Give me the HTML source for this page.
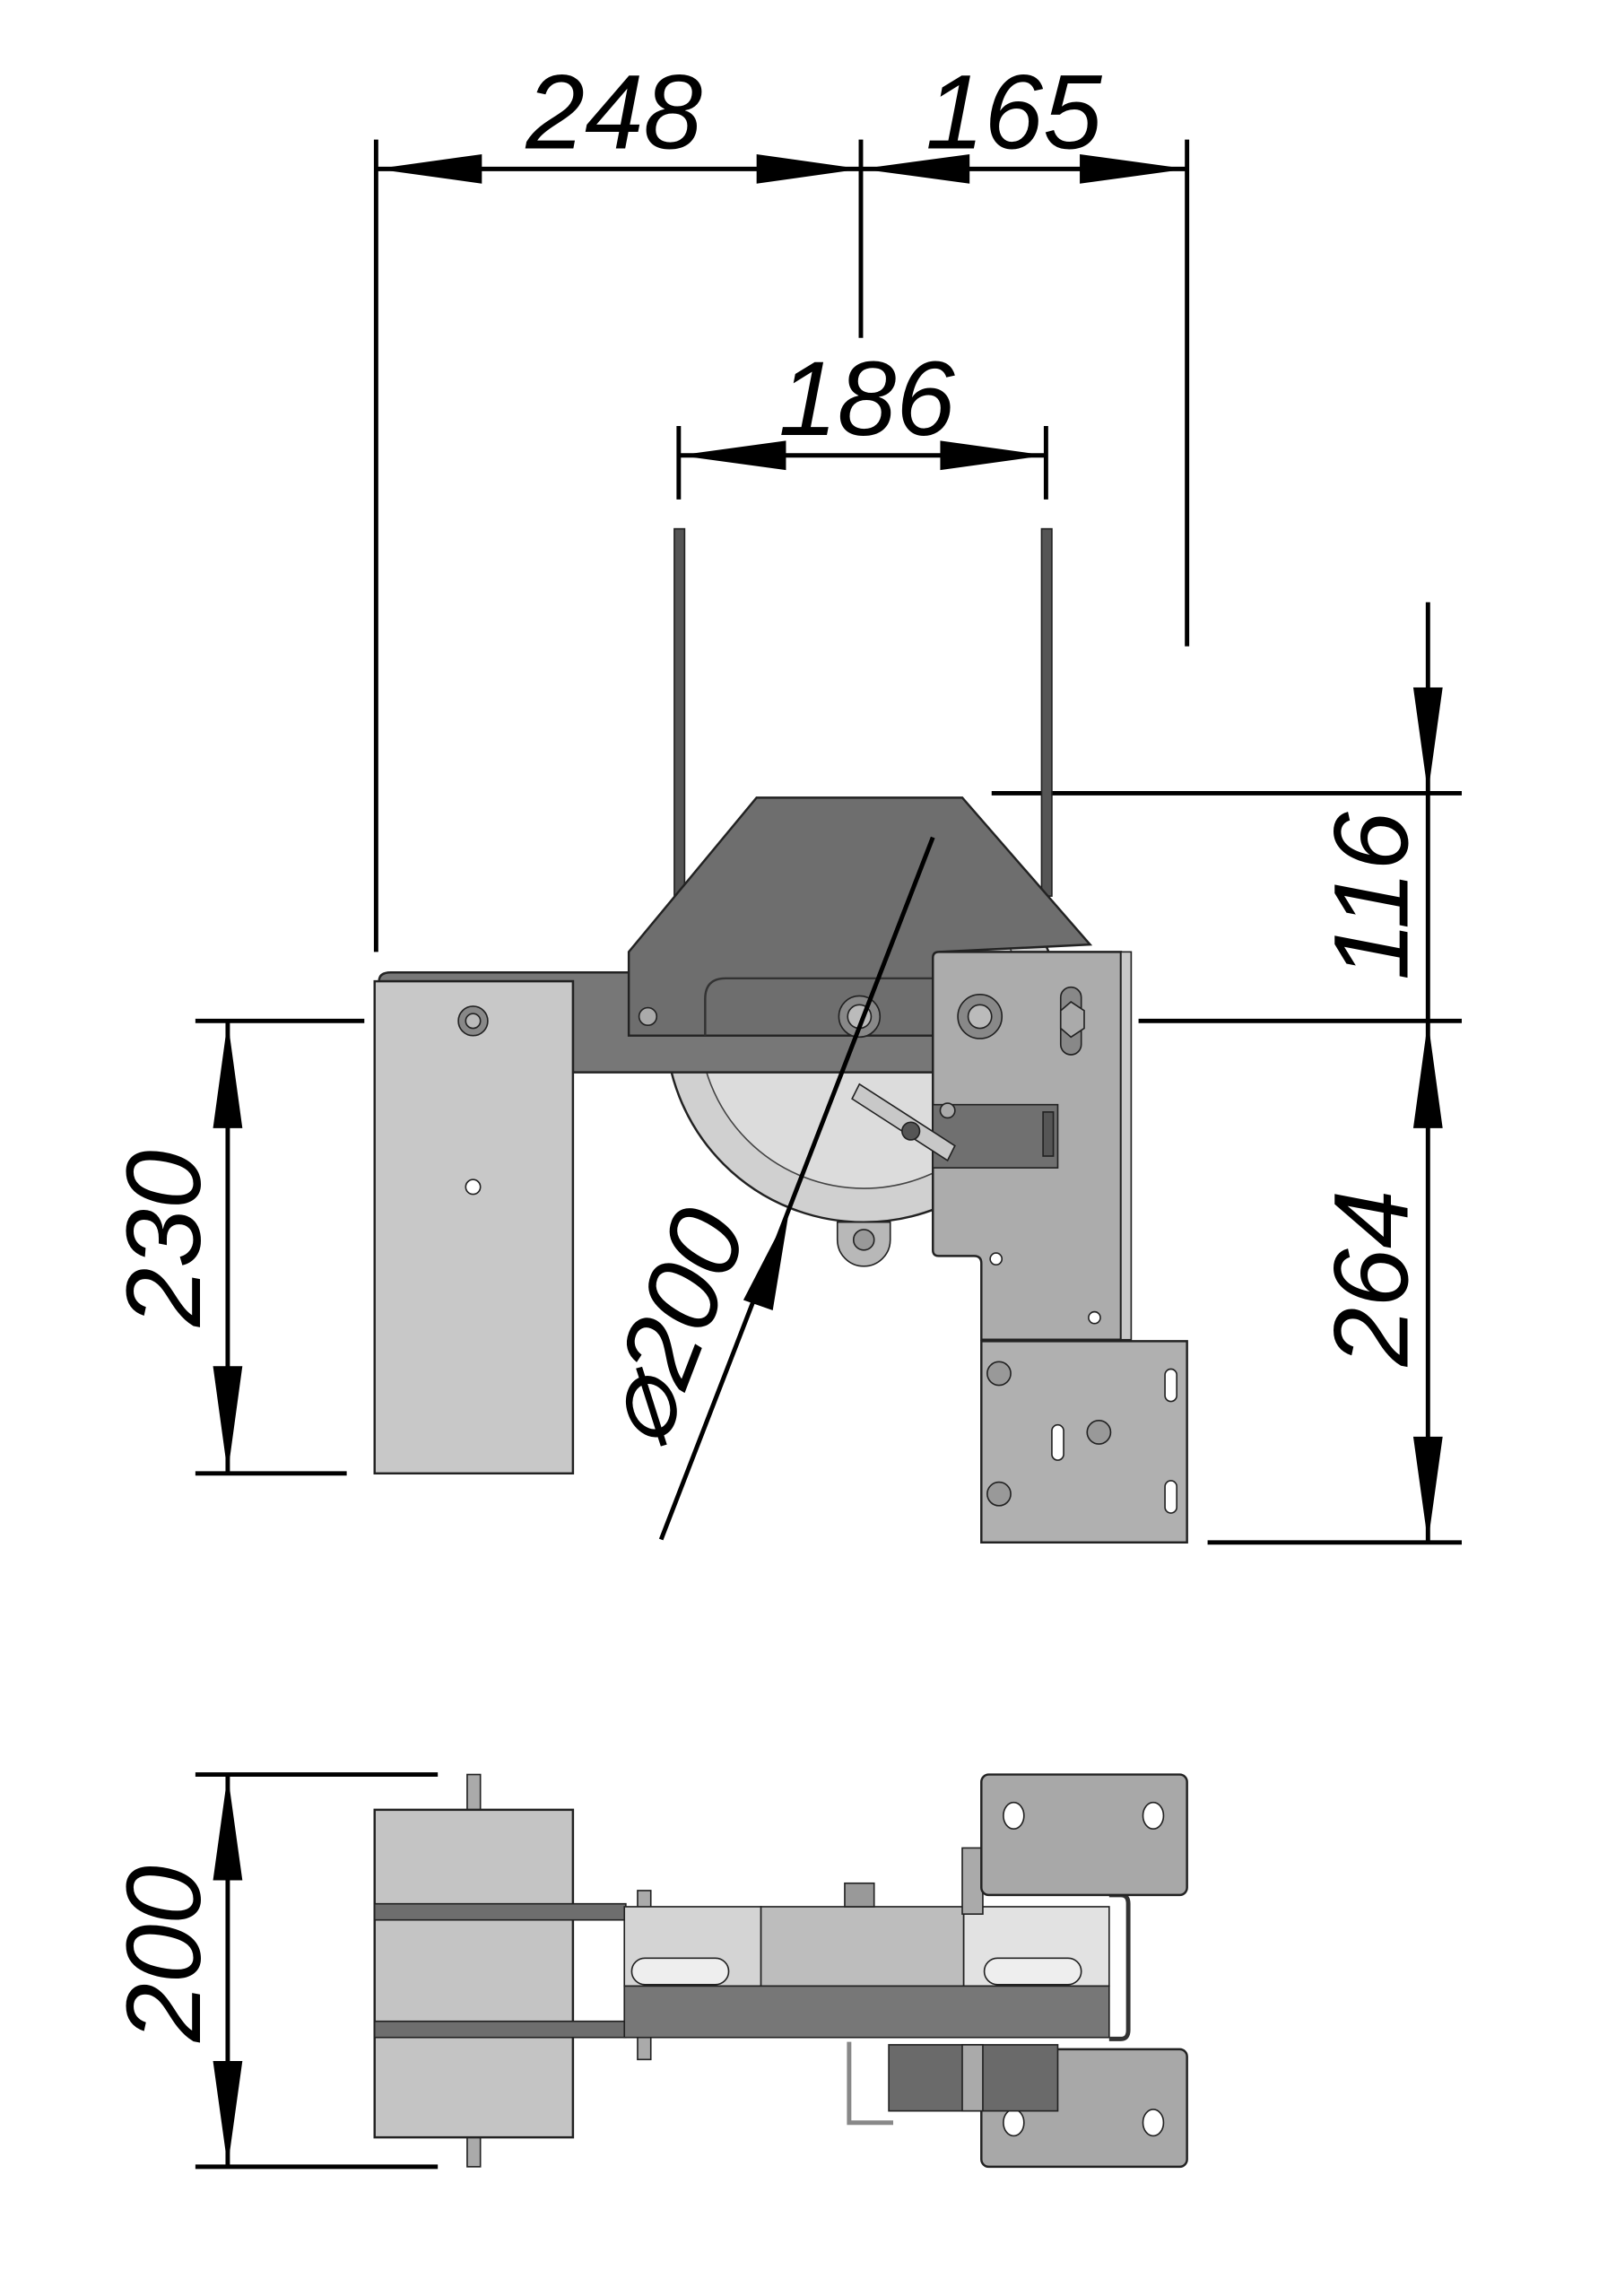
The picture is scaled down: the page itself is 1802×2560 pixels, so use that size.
<!DOCTYPE html>
<html><head><meta charset="utf-8"><style>html,body{margin:0;padding:0;background:#fff}svg{display:block}</style></head>
<body>
<svg width="1802" height="2560" viewBox="0 0 1100 1563" preserveAspectRatio="none" xmlns="http://www.w3.org/2000/svg">
<g stroke="#000" stroke-width="3" fill="none">
<!-- top dims -->
<line x1="256" y1="95" x2="256" y2="648"/>
<line x1="586" y1="95" x2="586" y2="230"/>
<line x1="808" y1="95" x2="808" y2="440"/>
<line x1="256" y1="115" x2="808" y2="115"/>
<line x1="462" y1="290" x2="462" y2="340"/>
<line x1="712" y1="290" x2="712" y2="340"/>
<line x1="462" y1="310" x2="712" y2="310"/>
<!-- right dims -->
<line x1="972" y1="410" x2="972" y2="1050"/>
<line x1="675" y1="540" x2="995" y2="540"/>
<line x1="775" y1="695" x2="995" y2="695"/>
<line x1="822" y1="1050" x2="995" y2="1050"/>
<!-- left dims -->
<line x1="155" y1="695" x2="155" y2="1003"/>
<line x1="133" y1="695" x2="248" y2="695"/>
<line x1="133" y1="1003" x2="236" y2="1003"/>
<line x1="155" y1="1208" x2="155" y2="1475"/>
<line x1="133" y1="1208" x2="298" y2="1208"/>
<line x1="133" y1="1475" x2="298" y2="1475"/>
</g>
<g fill="#000">
<polygon points="256,115 328,105 328,125"/>
<polygon points="586,115 515,105 515,125"/>
<polygon points="586,115 660,105 660,125"/>
<polygon points="808,115 735,105 735,125"/>
<polygon points="462,310 535,300 535,320"/>
<polygon points="712,310 640,300 640,320"/>
<polygon points="972,540 962,468 982,468"/>
<polygon points="972,695 962,768 982,768"/>
<polygon points="972,1050 962,978 982,978"/>
<polygon points="155,695 145,768 165,768"/>
<polygon points="155,1003 145,930 165,930"/>
<polygon points="155,1208 145,1280 165,1280"/>
<polygon points="155,1475 145,1403 165,1403"/>
</g>
<g font-family="Liberation Sans, sans-serif" font-style="italic" font-size="72" fill="#000" text-anchor="middle">
<text x="418" y="101">248</text>
<text x="690" y="101">165</text>
<text x="590" y="296">186</text>
<text transform="translate(958,610) rotate(-90)">116</text>
<text transform="translate(958,870) rotate(-90)">264</text>
<text transform="translate(136,843) rotate(-90)">230</text>
<text transform="translate(136,1330) rotate(-90)">200</text>
<text transform="translate(480,912) rotate(-69)">⌀200</text>
</g>
<!-- rods -->
<rect x="459" y="360" width="7" height="250" fill="#555" stroke="#222"/>
<rect x="709" y="360" width="7" height="250" fill="#555" stroke="#222"/>
<!-- wheel -->
<circle cx="588" cy="697" r="135" fill="#d0d0d0" stroke="#222" stroke-width="1.5"/>
<circle cx="588" cy="697" r="112" fill="#dcdcdc" stroke="#444" stroke-width="1"/>
<path d="M570 832 h36 v12 a18 18 0 0 1 -36 0z" fill="#b8b8b8" stroke="#222"/>
<circle cx="588" cy="844" r="7" fill="#999" stroke="#222"/>
<!-- arm -->
<path d="M258 668 q0 -6 8 -6 H640 V730 H390 V668z" fill="#777" stroke="#222" stroke-width="1.5"/>
<!-- hopper -->
<polygon points="515,543 655,543 742,643 640,648 640,705 428,705 428,648" fill="#6e6e6e" stroke="#222" stroke-width="1.5"/>
<path d="M480 705 V680 q0 -14 14 -14 H640" fill="none" stroke="#333" stroke-width="1.5"/>
<circle cx="441" cy="692" r="6" fill="#aaa" stroke="#222"/>
<circle cx="585" cy="692" r="14" fill="#888" stroke="#222"/>
<circle cx="585" cy="692" r="8" fill="#bbb" stroke="#222"/>
<!-- left box -->
<rect x="255" y="668" width="135" height="335" fill="#c8c8c8" stroke="#222" stroke-width="1.5"/>
<circle cx="322" cy="695" r="10" fill="#888" stroke="#222"/>
<circle cx="322" cy="695" r="5" fill="#bbb" stroke="#222"/>
<circle cx="322" cy="808" r="5" fill="#fff" stroke="#222"/>
<!-- right plate -->
<path d="M635 652 q0 -4 4 -4 H763 V912 H668 V860 q0 -5 -5 -5 H639 q-4 0 -4 -4z" fill="#acacac" stroke="#222" stroke-width="1.5"/>
<rect x="763" y="648" width="7" height="264" fill="#c8c8c8" stroke="#222"/>
<circle cx="667" cy="692" r="15" fill="#888" stroke="#222"/>
<circle cx="667" cy="692" r="8" fill="#bbb" stroke="#222"/>
<rect x="722" y="672" width="14" height="46" rx="7" fill="#888" stroke="#222"/>
<polygon points="722,688 729,682 738,688 738,700 729,706 722,700" fill="#aaa" stroke="#222"/>
<rect x="635" y="752" width="85" height="43" fill="#707070" stroke="#222"/>
<rect x="710" y="757" width="7" height="30" fill="#555" stroke="#222"/>
<polygon points="580,748 585,738 650,780 645,790" fill="#c8c8c8" stroke="#222"/>
<circle cx="620" cy="770" r="6" fill="#555" stroke="#222"/>
<circle cx="645" cy="756" r="5" fill="#aaa" stroke="#222"/>
<circle cx="678" cy="857" r="4" fill="#fff" stroke="#222"/>
<circle cx="745" cy="897" r="4" fill="#fff" stroke="#222"/>
<!-- bracket -->
<rect x="668" y="913" width="140" height="137" fill="#b0b0b0" stroke="#222" stroke-width="1.5"/>
<circle cx="680" cy="935" r="8" fill="#999" stroke="#222"/>
<circle cx="748" cy="975" r="8" fill="#999" stroke="#222"/>
<circle cx="680" cy="1017" r="8" fill="#999" stroke="#222"/>
<rect x="793" y="932" width="8" height="22" rx="4" fill="#fff" stroke="#222"/>
<rect x="793" y="1008" width="8" height="22" rx="4" fill="#fff" stroke="#222"/>
<rect x="716" y="970" width="8" height="24" rx="4" fill="#fff" stroke="#222"/>
<!-- diameter line -->
<line x1="450" y1="1048" x2="635" y2="570" stroke="#000" stroke-width="3"/>
<polygon points="537,825 506,885 526,892" fill="#000"/>
<!-- bottom view -->
<rect x="318" y="1208" width="9" height="25" fill="#aaa" stroke="#222"/>
<rect x="318" y="1455" width="9" height="20" fill="#aaa" stroke="#222"/>
<rect x="255" y="1232" width="135" height="223" fill="#c4c4c4" stroke="#222" stroke-width="1.5"/>
<rect x="255" y="1296" width="171" height="11" fill="#6e6e6e" stroke="#222"/>
<rect x="255" y="1376" width="171" height="11" fill="#6e6e6e" stroke="#222"/>
<rect x="434" y="1287" width="9" height="115" fill="#aaa" stroke="#222"/>
<rect x="425" y="1298" width="93" height="54" fill="#d4d4d4" stroke="#222"/>
<rect x="518" y="1298" width="138" height="54" fill="#bdbdbd" stroke="#222"/>
<rect x="656" y="1298" width="99" height="54" fill="#e2e2e2" stroke="#222"/>
<rect x="425" y="1352" width="330" height="35" fill="#777" stroke="#222"/>
<rect x="430" y="1333" width="66" height="18" rx="9" fill="#eee" stroke="#222"/>
<rect x="670" y="1333" width="66" height="18" rx="9" fill="#eee" stroke="#222"/>
<rect x="575" y="1282" width="20" height="16" fill="#999" stroke="#222"/>
<rect x="655" y="1258" width="14" height="45" fill="#aaa" stroke="#222"/>
<path d="M755 1290 h8 q5 0 5 6 v86 q0 6 -5 6 h-8" fill="none" stroke="#333" stroke-width="3"/>
<rect x="668" y="1208" width="140" height="82" rx="5" fill="#a8a8a8" stroke="#222" stroke-width="1.5"/>
<ellipse cx="690" cy="1236" rx="7" ry="9" fill="#fff" stroke="#222"/>
<ellipse cx="785" cy="1236" rx="7" ry="9" fill="#fff" stroke="#222"/>
<rect x="668" y="1395" width="140" height="80" rx="5" fill="#a8a8a8" stroke="#222" stroke-width="1.5"/>
<ellipse cx="690" cy="1445" rx="7" ry="9" fill="#fff" stroke="#222"/>
<ellipse cx="785" cy="1445" rx="7" ry="9" fill="#fff" stroke="#222"/>
<rect x="605" y="1392" width="115" height="45" fill="#6a6a6a" stroke="#222"/>
<path d="M578 1390 v55 h30" fill="none" stroke="#888" stroke-width="3"/>
<rect x="655" y="1392" width="14" height="45" fill="#aaa" stroke="#222"/>
</svg>
</body></html>
